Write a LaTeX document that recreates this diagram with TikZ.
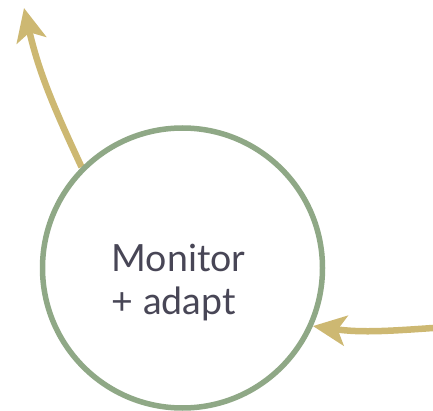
\documentclass[tikz,border=0pt]{standalone}
\usepackage{fontspec}
\setmainfont{Lato}
\usetikzlibrary{arrows.meta,backgrounds}
\definecolor{sage}{RGB}{143,168,134}
\definecolor{gold}{RGB}{205,184,114}
\definecolor{ink}{RGB}{72,70,86}
\tikzset{
  hub/.style={circle, draw=sage, line width=5.5pt, fill=white, minimum size=280pt, inner sep=0pt},
  hubtext/.style={text=ink, align=left, inner sep=0pt,
    font=\fontsize{37.5pt}{43pt}\selectfont},
  flow/.style={draw=gold, line width=6.5pt,
    -{Stealth[length=33pt, width=30pt, inset=8pt]}}
}
\begin{document}
\begin{tikzpicture}[x=1pt, y=-1pt]
  \useasboundingbox (0,0) rectangle (433,411);
  % the loop stage and its caption
  \node[hub] (monitor) at (182.5,268) {};
  \node[hubtext] (caption) at (178.5,282.5) {Monitor\\+ adapt};
  % flows leaving and entering the stage, tucked behind the circle
  \coordinate (outTip) at (24,8);
  \coordinate (inStart) at (440,327.5);
  \begin{scope}[on background layer]
    \draw[flow] (monitor.135) to[out=115, in=-77] (outTip);
    \draw[flow] (inStart) to[out=184, in=-8] (monitor.-24);
  \end{scope}
\end{tikzpicture}
\end{document}
